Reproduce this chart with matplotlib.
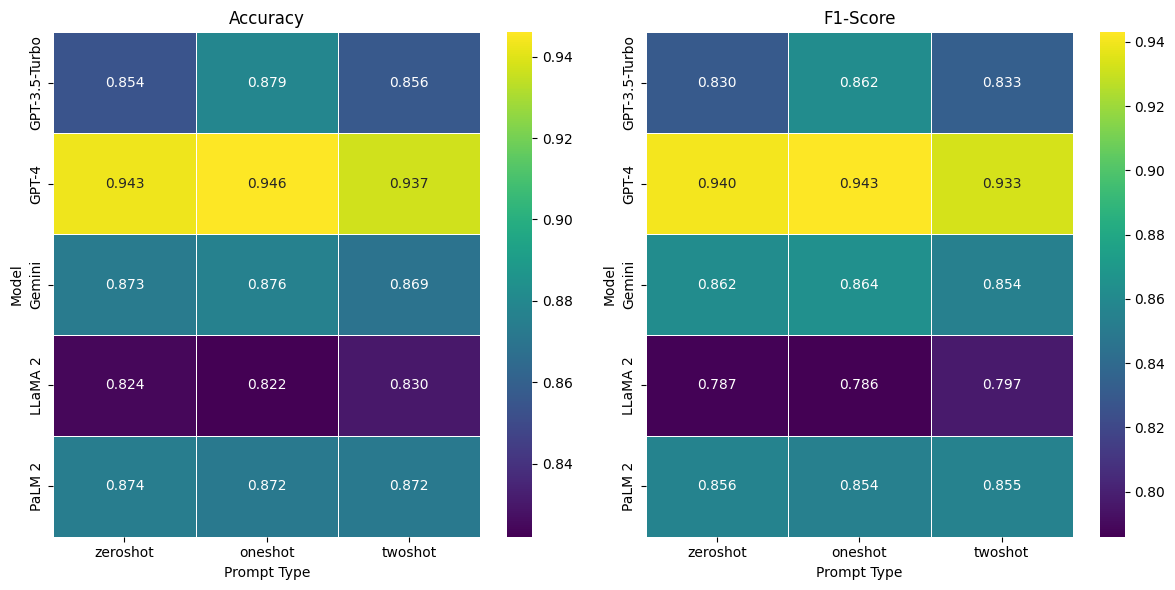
import matplotlib
matplotlib.use("Agg")
import matplotlib.pyplot as plt
import seaborn as sns
import pandas as pd

models = ["GPT-3.5-Turbo", "GPT-4", "Gemini", "LLaMA 2", "PaLM 2"]
prompts = ["zeroshot", "oneshot", "twoshot"]
accuracy = [
    [0.854, 0.879, 0.856],
    [0.943, 0.946, 0.937],
    [0.873, 0.876, 0.869],
    [0.824, 0.822, 0.830],
    [0.874, 0.872, 0.872],
]
f1 = [
    [0.830, 0.862, 0.833],
    [0.940, 0.943, 0.933],
    [0.862, 0.864, 0.854],
    [0.787, 0.786, 0.797],
    [0.856, 0.854, 0.855],
]

fig, axes = plt.subplots(1, 2, figsize=(12, 6), dpi=100)
for ax, data, title in zip(axes, [accuracy, f1], ["Accuracy", "F1-Score"]):
    df = pd.DataFrame(data, index=models, columns=prompts)
    sns.heatmap(df, annot=True, fmt=".3f", cmap="viridis", linewidths=0.5,
                linecolor="white", ax=ax)
    ax.set_title(title)
    ax.set_xlabel("Prompt Type")
    ax.set_ylabel("Model")
plt.tight_layout()
fig.savefig("out.png", dpi=100, bbox_inches="tight")
